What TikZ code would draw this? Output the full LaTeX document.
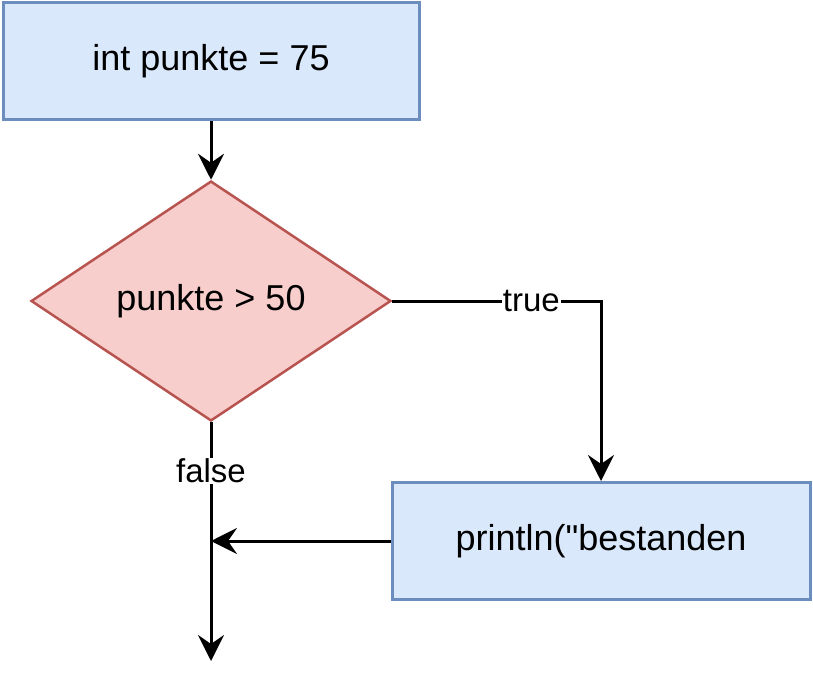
\documentclass[tikz,border=0pt]{standalone}
\usepackage{fontspec}
\setmainfont{Liberation Sans}[Ligatures=TeXOff]
\usetikzlibrary{shapes.geometric,arrows.meta}
\definecolor{procfill}{HTML}{DAE8FC}
\definecolor{procline}{HTML}{6C8EBF}
\definecolor{decfill}{HTML}{F8CECC}
\definecolor{decline}{HTML}{B85450}
\tikzset{
  procbox/.style={rectangle, draw=procline, fill=procfill, line width=3pt,
    minimum height=117pt, inner sep=0pt,
    font=\fontsize{36}{40}\selectfont},
  decbox/.style={diamond, draw=decline, fill=decfill, line width=2.5pt,
    minimum width=360pt, minimum height=240pt, inner sep=0pt, aspect=1.5,
    font=\fontsize{36}{40}\selectfont},
  flow/.style={line width=3pt, -{Stealth[length=26pt,width=26pt,inset=9pt]}},
  edgelabel/.style={fill=white, inner sep=1pt, font=\fontsize{33}{36}\selectfont}
}
\begin{document}
\begin{tikzpicture}[x=1pt,y=-1pt]
  \useasboundingbox (0,0) rectangle (813,687);
  \node[procbox, minimum width=416pt] (init) at (211,61.5) {int punkte = 75};
  \node[decbox] (check) at (211,301) {punkte > 50};
  \node[procbox, minimum width=418pt] (print) at (601,541) {println("bestanden};
  \coordinate (join) at (211,541);
  \coordinate (exit) at (211,661);
  \draw[flow] (init.south) -- (check.north);
  \draw[flow] (check.east) -| node[edgelabel, pos=0.333] {true} (print.north);
  \draw[flow] (print.west) -- (join);
  \draw[flow] (check.south) -- node[edgelabel, pos=0.204] {false} (exit);
\end{tikzpicture}
\end{document}
